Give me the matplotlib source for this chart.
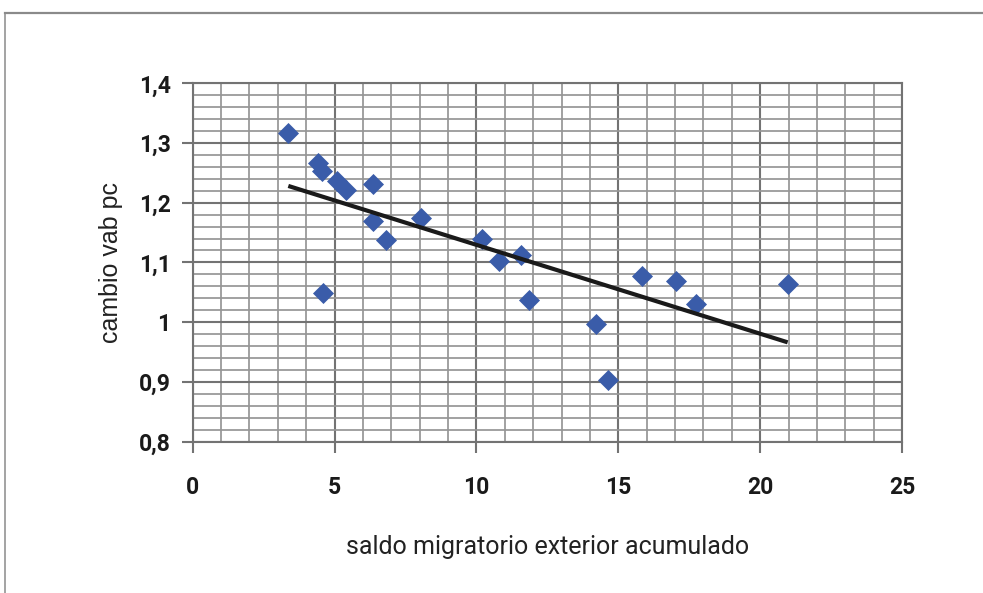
import numpy as np
import matplotlib
matplotlib.use("Agg")
import matplotlib.pyplot as plt
from matplotlib.ticker import MultipleLocator
from matplotlib.lines import Line2D

# saldo migratorio exterior acumulado vs cambio vab pc
saldo = [3.37, 4.42, 4.54, 5.07, 5.42, 6.36, 6.34, 6.83, 8.05, 4.60,
         10.21, 10.80, 11.56, 11.85, 14.22, 14.63, 15.85, 17.02, 17.75, 20.97]
cambio = [1.317, 1.267, 1.253, 1.237, 1.222, 1.231, 1.170, 1.138, 1.175, 1.049,
          1.139, 1.103, 1.112, 1.037, 0.996, 0.903, 1.078, 1.069, 1.030, 1.064]

x_ticks = [0, 5, 10, 15, 20, 25]
x_labels = ["0", "5", "10", "15", "20", "25"]
y_ticks = [0.8, 0.9, 1.0, 1.1, 1.2, 1.3, 1.4]
y_labels = ["0,8", "0,9", "1", "1,1", "1,2", "1,3", "1,4"]

major_col = "#737373"
minor_col = "#969696"

fig = plt.figure(figsize=(9.83, 5.93), dpi=100)
ax = fig.add_axes([192.7 / 983, 1 - 441.5 / 593, (902 - 192.7) / 983, (441.5 - 83.3) / 593])

# outer chart frame (only top and left visible in the crop)
fig.add_artist(Line2D([5 / 983, 5 / 983], [0, 1 - 12.5 / 593], color="#8a8a8a", lw=1.1))
fig.add_artist(Line2D([5 / 983, 1], [1 - 12.5 / 593, 1 - 12.5 / 593], color="#8a8a8a", lw=1.6))

ax.set_xlim(0, 25)
ax.set_ylim(0.8, 1.4)
ax.xaxis.set_minor_locator(MultipleLocator(1))
ax.yaxis.set_minor_locator(MultipleLocator(0.02))
ax.set_xticks(x_ticks)
ax.set_xticklabels(x_labels)
ax.set_yticks(y_ticks)
ax.set_yticklabels(y_labels)

ax.grid(which="major", color=major_col, lw=1.5)
ax.grid(which="minor", color=minor_col, lw=1.25)
ax.set_axisbelow(True)
for s in ax.spines.values():
    s.set_color(major_col)
    s.set_linewidth(1.5)

ax.tick_params(which="major", direction="out", length=8, width=1.5, color=major_col,
               labelsize=16.5, labelcolor="#1a1a1a")
ax.tick_params(axis="x", which="major", pad=17)
ax.tick_params(axis="y", which="major", pad=8)
ax.tick_params(which="minor", length=0)
for lab in ax.get_xticklabels() + ax.get_yticklabels():
    lab.set_family("Roboto")
    lab.set_fontweight("bold")

ax.scatter(saldo, cambio, marker="D", s=115, color="#3a5ca9", linewidths=0, zorder=3)

# linear trend line
k, b = np.polyfit(saldo, cambio, 1)
xs = np.array([min(saldo), max(saldo)])
ax.plot(xs, k * xs + b, color="#1a1a1a", lw=3, solid_capstyle="butt", zorder=4)

ax.set_xlabel("saldo migratorio exterior acumulado", family="Roboto", fontsize=18,
              color="#222222", labelpad=26)
ax.set_ylabel("cambio vab pc", family="Liberation Sans", fontsize=18,
              color="#222222", labelpad=11)

fig.savefig("out.png", dpi=100)
